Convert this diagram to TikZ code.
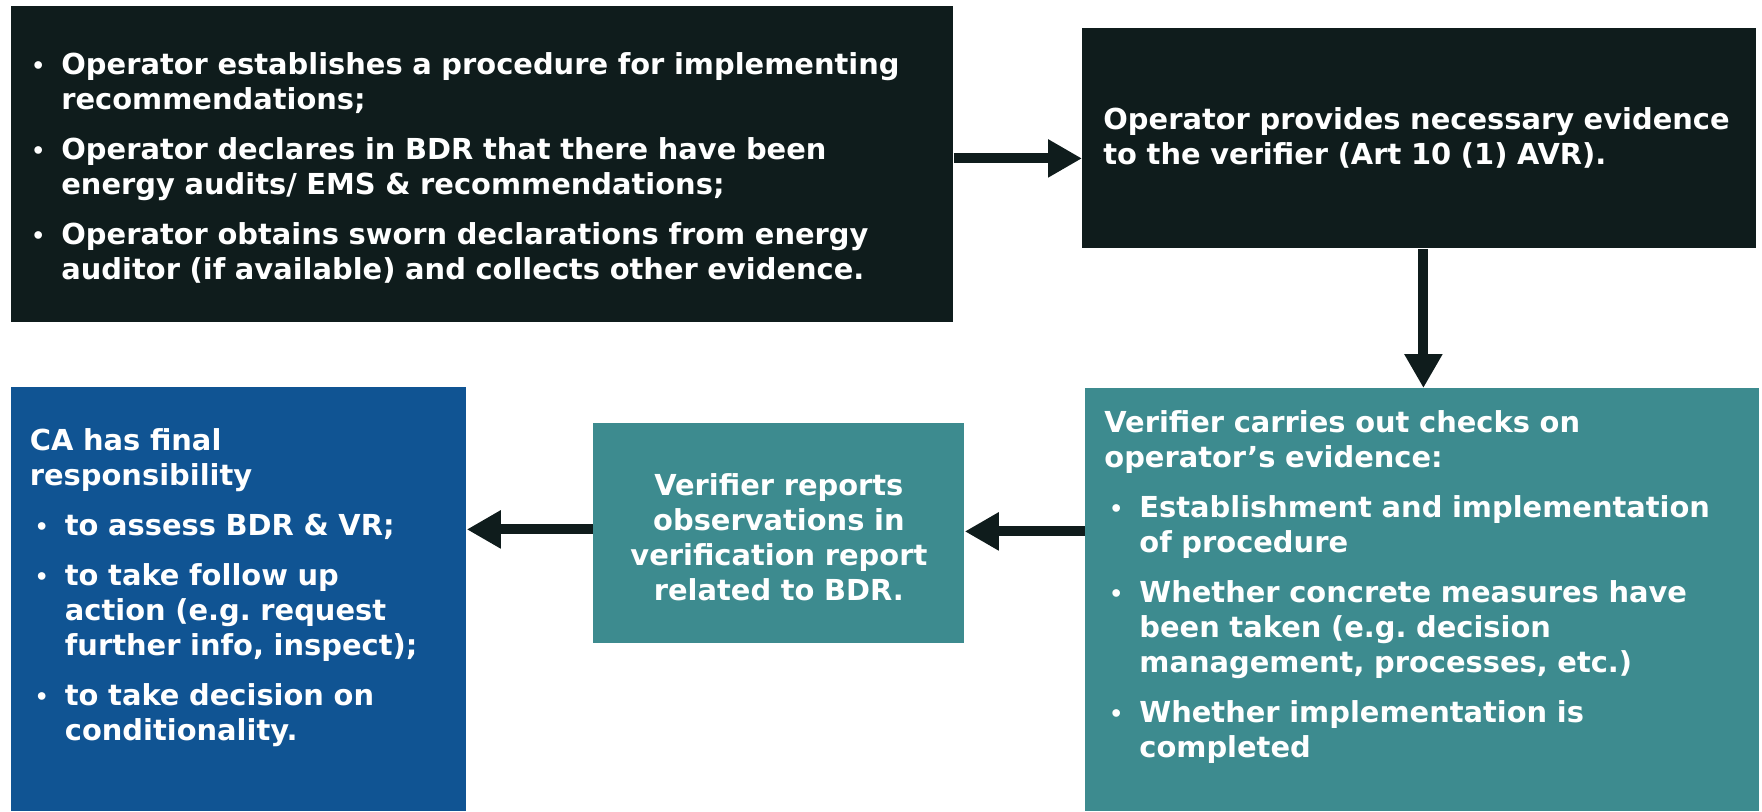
\documentclass[tikz,border=0pt]{standalone}
\usepackage{fontspec}
\setmainfont{DejaVu Sans}
\usetikzlibrary{arrows.meta}
\definecolor{darkbg}{HTML}{0F1C1C}
\definecolor{tealbg}{HTML}{3D8B8F}
\definecolor{bluebg}{HTML}{105493}
\newlength\bhang
\setlength\bhang{17.5pt}
\newcommand\bul{\raisebox{0.6pt}{\scalebox{0.75}{•}}}
\newcommand\bstart{\hangindent=\bhang\hangafter=1\noindent\makebox[\bhang][l]{\hspace{2.5pt}\bul}}
\newcommand\bitem{\par\bstart}
\tikzstyle{flowbox} = [rectangle, anchor=north west, inner ysep=0pt, text=white, align=left,
  font=\bfseries\fontsize{14.45pt}{17.5pt}\selectfont\setlength{\parskip}{7.5pt}\frenchspacing]
\tikzstyle{darkbox} = [flowbox, fill=darkbg]
\tikzstyle{tealbox} = [flowbox, fill=tealbg]
\tikzstyle{bluebox} = [flowbox, fill=bluebg]
\tikzstyle{flow} = [line width=5pt, darkbg]

\begin{document}
\begin{tikzpicture}[x=0.5pt,y=-0.5pt,->,>={Triangle[length=17pt,width=18pt]}]
  \useasboundingbox (0,0) rectangle (1762,811);

  \node[darkbox, inner xsep=7.5pt, minimum width=471pt, minimum height=158pt, text width=456pt] (steps) at (11,6) {%
    \bstart Operator establishes a procedure for implementing\newline recommendations;
    \bitem Operator declares in BDR that there have been\newline energy audits/ EMS \& recommendations;
    \bitem Operator obtains sworn declarations from energy\newline auditor (if available) and collects other evidence.\par\vspace*{-3.4pt}};
  \node[darkbox, inner xsep=10.5pt, minimum width=337pt, minimum height=110pt, text width=316pt] (provide) at (1082,28) {%
    Operator provides necessary evidence\\ to the verifier (Art 10 (1) AVR).};
  \node[tealbox, inner xsep=9.5pt, minimum width=337pt, minimum height=211.5pt, text width=318pt] (checks) at (1085,388) {%
    \noindent Verifier carries out checks on\newline operator’s evidence:
    \bitem Establishment and implementation\newline of procedure
    \bitem Whether concrete measures have\newline been taken (e.g. decision\newline management, processes, etc.)
    \bitem Whether implementation is\newline completed\par\vspace*{13pt}};
  \node[tealbox, align=center, inner xsep=0pt, minimum width=185.5pt, minimum height=110pt, text width=185.5pt] (report) at (593,423) {%
    Verifier reports\\ observations in\\ verification report\\ related to BDR.\par\vspace*{-3.4pt}};
  \node[bluebox, inner xsep=9pt, minimum width=227.5pt, minimum height=212pt, text width=209pt] (ca) at (11,387) {%
    \noindent CA has final\newline responsibility
    \bitem to assess BDR \& VR;
    \bitem to take follow up\newline action (e.g. request\newline further info, inspect);
    \bitem to take decision on\newline conditionality.\par\vspace*{12pt}};

  \path[flow] ([yshift=3pt]steps.east) edge ([yshift=3pt]steps.east -| provide.west);
  \path[flow] ([xshift=2pt]provide.south) edge ([xshift=2pt]provide.south |- checks.north);
  \path[flow] ([yshift=1pt]checks.west |- report.east) edge ([yshift=1pt]report.east);
  \path[flow] ([yshift=2pt]report.west) edge ([yshift=2pt]report.west -| ca.east);
\end{tikzpicture}
\end{document}
